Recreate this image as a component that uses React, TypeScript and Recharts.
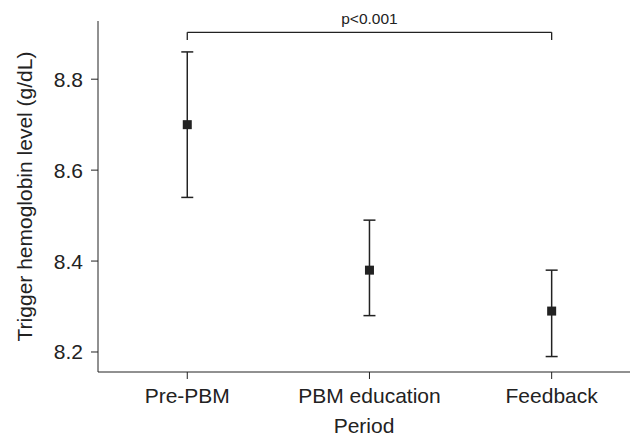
import {
  ComposedChart,
  Scatter,
  ErrorBar,
  XAxis,
  YAxis,
  ReferenceLine,
} from "recharts";

const periods = ["Pre-PBM", "PBM education", "Feedback"];
const means = [8.7, 8.38, 8.29];
const lowers = [8.54, 8.28, 8.19];
const uppers = [8.86, 8.49, 8.38];
const yTicks = [8.2, 8.4, 8.6, 8.8];
const pLabel = "p<0.001";

const rows = periods.map((p, i) => ({
  x: i,
  name: p,
  mean: means[i],
  err: [means[i] - lowers[i], uppers[i] - means[i]],
}));

const font = "'Liberation Sans', Arial, sans-serif";
const ink = "#222";

const Square = (props: any) => {
  const { cx, cy } = props;
  return <rect x={cx - 4.5} y={cy - 4.5} width={9} height={9} fill={ink} />;
};

// bracket above the first and last period
const bracketY = 8.903;
const bracketFoot = 8.886;

export default function App() {
  return (
    <div style={{ position: "absolute", left: 0, top: 0, fontFamily: font }}>
      <ComposedChart
        width={630}
        height={437}
        data={rows}
        margin={{ top: 21, right: 0, left: 0, bottom: 0 }}
      >
        <XAxis
          type="number"
          dataKey="x"
          domain={[-0.49, 2.43]}
          ticks={[0, 1, 2]}
          tickFormatter={(v: number) => periods[v]}
          stroke={ink}
          tickSize={7}
          tickMargin={9}
          height={65}
          tick={{ fill: "#222", fontSize: 21, fontFamily: font }}
          label={{
            value: "Period",
            position: "insideBottom",
            offset: 4,
            fill: "#222",
            fontSize: 21,
            fontFamily: font,
          }}
        />
        <YAxis
          type="number"
          domain={[8.156, 8.928]}
          ticks={yTicks}
          tickFormatter={(v: number) => v.toFixed(1)}
          stroke={ink}
          tickSize={7}
          tickMargin={8}
          width={98}
          allowDataOverflow
          tick={{ fill: "#222", fontSize: 21, fontFamily: font }}
          label={{
            value: "Trigger hemoglobin level (g/dL)",
            angle: -90,
            position: "insideLeft",
            offset: 25,
            style: { textAnchor: "middle" },
            fill: "#222",
            fontSize: 21,
            fontFamily: font,
          }}
        />
        <ReferenceLine
          segment={[
            { x: 0, y: bracketY },
            { x: 2, y: bracketY },
          ]}
          stroke={ink}
          strokeWidth={1.3}
          label={{
            value: pLabel,
            position: "top",
            fill: "#222",
            fontSize: 15.5,
            fontFamily: font,
            offset: 8,
          }}
        />
        <ReferenceLine
          segment={[
            { x: 0, y: bracketY },
            { x: 0, y: bracketFoot },
          ]}
          stroke={ink}
          strokeWidth={1.3}
        />
        <ReferenceLine
          segment={[
            { x: 2, y: bracketY },
            { x: 2, y: bracketFoot },
          ]}
          stroke={ink}
          strokeWidth={1.3}
        />
        <Scatter dataKey="mean" shape={Square} isAnimationActive={false}>
          <ErrorBar
            dataKey="err"
            direction="y"
            width={6}
            stroke={ink}
            strokeWidth={1.5}
            isAnimationActive={false}
          />
        </Scatter>
      </ComposedChart>
    </div>
  );
}
